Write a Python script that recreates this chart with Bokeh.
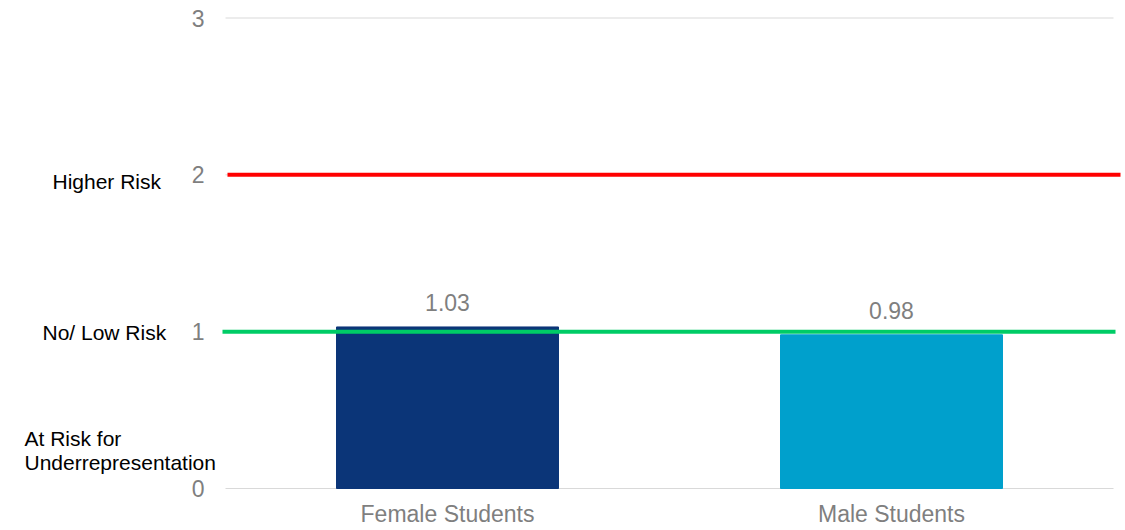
from bokeh.plotting import figure
from bokeh.models import ColumnDataSource, Range1d, LabelSet, FixedTicker, LinearAxis
from bokeh.core.properties import value
from bokeh.embed import file_html
from bokeh.resources import INLINE

# Disproportionality risk ratios by student group
groups = ["Female Students", "Male Students"]
ratios = [1.03, 0.98]
bar_colors = ["#0B3578", "#00A0CC"]
ratio_labels = ["1.03", "0.98"]

# Reference thresholds
higher_risk = 2
no_low_risk = 1
y_ticks = [0, 1, 2, 3]

# Risk category captions shown beside the value axis
caption_texts = ["Higher Risk", "No/ Low Risk", "At Risk for", "Underrepresentation"]
caption_y = [1.96, 0.996, 0.32, 0.167]
caption_px = [52, 42, 24, 24]

FONT = "Liberation Sans"

# Page geometry (pixels). The frame spans the whole page so that the captions
# left of the value axis and the end tick labels are not clipped.
W, H = 1125, 530
PLOT_LEFT_PX, PLOT_RIGHT_PX = 225, 1113
ZERO_PX, TOP_TICK_PX, FRAME_BOTTOM_PX = 488, 17.5, 497
px_per_unit_x = (PLOT_RIGHT_PX - PLOT_LEFT_PX) / len(groups)
px_per_unit_y = (ZERO_PX - TOP_TICK_PX) / y_ticks[-1]


def px_to_x(px):
    return (px - PLOT_LEFT_PX) / px_per_unit_x


def px_to_y(py):
    return (ZERO_PX - py) / px_per_unit_y


centers = [i + 0.5 for i in range(len(groups))]
n = len(groups)

source = ColumnDataSource(data=dict(
    x=centers, ratio=ratios, color=bar_colors, label=ratio_labels,
))

p = figure(
    x_range=Range1d(px_to_x(0), px_to_x(W)),
    y_range=Range1d(px_to_y(FRAME_BOTTOM_PX), px_to_y(0)),
    width=W, height=H,
    output_backend="svg", toolbar_location=None,
    x_axis_location=None, y_axis_location=None,
    min_border_left=0, min_border_right=0,
    min_border_top=0, min_border_bottom=H - FRAME_BOTTOM_PX,
)
p.outline_line_color = None
p.background_fill_color = "white"
p.border_fill_color = "white"
p.grid.visible = False

# Horizontal grid lines over the plotting area only
p.segment(x0=[0] * len(y_ticks), y0=y_ticks, x1=[n] * len(y_ticks), y1=y_ticks,
          line_color="#D9D9D9", line_width=1)

p.vbar(x="x", top="ratio", width=0.5, color="color", source=source)

# Threshold lines drawn over the bars
p.segment(x0=[px_to_x(227)], y0=[higher_risk], x1=[px_to_x(1120)], y1=[higher_risk],
          line_color="#FF0000", line_width=4)
p.segment(x0=[px_to_x(222)], y0=[no_low_risk], x1=[px_to_x(1115)], y1=[no_low_risk],
          line_color="#00CC66", line_width=4)

labels = LabelSet(x="x", y="ratio", text="label", source=source,
                  text_align="center", text_baseline="bottom", y_offset=16,
                  text_color="#7F7F7F", text_font=value(FONT), text_font_size="23px")
p.add_layout(labels)

p.text(
    x=[px_to_x(v) for v in caption_px], y=caption_y,
    text=caption_texts, text_align="left", text_baseline="alphabetic",
    text_color="black", text_font=value(FONT), text_font_size="21px",
)

# Value axis drawn at the left edge of the plotting area
yaxis = LinearAxis(fixed_location=0, ticker=FixedTicker(ticks=y_ticks))
yaxis.axis_line_color = None
yaxis.major_tick_line_color = None
yaxis.minor_tick_line_color = None
yaxis.major_label_standoff = 15
yaxis.major_label_text_color = "#7F7F7F"
yaxis.major_label_text_font = FONT
yaxis.major_label_text_font_size = "23px"
p.add_layout(yaxis, "left")

# Category axis
xaxis = LinearAxis(ticker=FixedTicker(ticks=centers),
                   major_label_overrides={c: g for c, g in zip(centers, groups)})
xaxis.axis_line_color = None
xaxis.major_tick_line_color = None
xaxis.minor_tick_line_color = None
xaxis.major_label_standoff = -3
xaxis.major_label_text_color = "#7F7F7F"
xaxis.major_label_text_font = FONT
xaxis.major_label_text_font_size = "23px"
p.add_layout(xaxis, "below")

open("out.html", "w").write(file_html(p, INLINE))
